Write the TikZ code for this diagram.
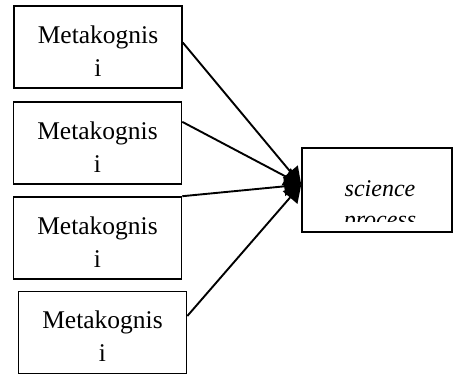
\documentclass[tikz,border=0pt]{standalone}
\usepackage{fontspec}
\setmainfont{Liberation Serif}
\usetikzlibrary{arrows.meta}

\tikzset{
  caja/.style={draw, line width=1.6pt, minimum width=168pt, minimum height=82pt, inner sep=0pt, align=center, text height=58pt, text depth=0pt},
  flecha/.style={line width=1.9pt, -{Triangle[length=17pt,width=19pt]}}
}

\begin{document}
\begin{tikzpicture}[x=1pt, y=-1pt, font=\fontsize{25.5}{33}\selectfont]
  \useasboundingbox (0,0) rectangle (453,376);

  % Cajas de la izquierda
  \node[caja] (m1) at (98,47) {Metakognis\\i};
  \node[caja] (m2) at (97.5,143) {Metakognis\\i};
  \node[caja] (m3) at (97.5,238) {Metakognis\\i};
  \node[caja] (m4) at (102.5,332.5) {Metakognis\\i};

  % Caja de la derecha (texto recortado)
  \node[caja, minimum width=150pt, minimum height=84pt] (sp) at (377,190) {};
  \begin{scope}
    \clip (303,149) rectangle (451,221);
    \node[anchor=base, font=\fontsize{24}{33}\selectfont\itshape] (sc) at (380,196) {science};
    \node[anchor=base, font=\fontsize{24}{33}\selectfont\itshape] (pr) at (380,227) {process};
  \end{scope}

  % Flechas
  \draw[flecha] (m1.3) -- (sp.176);
  \draw[flecha] (m2.14) -- (sp.176);
  \draw[flecha] (m3.north east) -- (sp.176);
  \draw[flecha] (m4.11) -- (sp.176);
\end{tikzpicture}
\end{document}
